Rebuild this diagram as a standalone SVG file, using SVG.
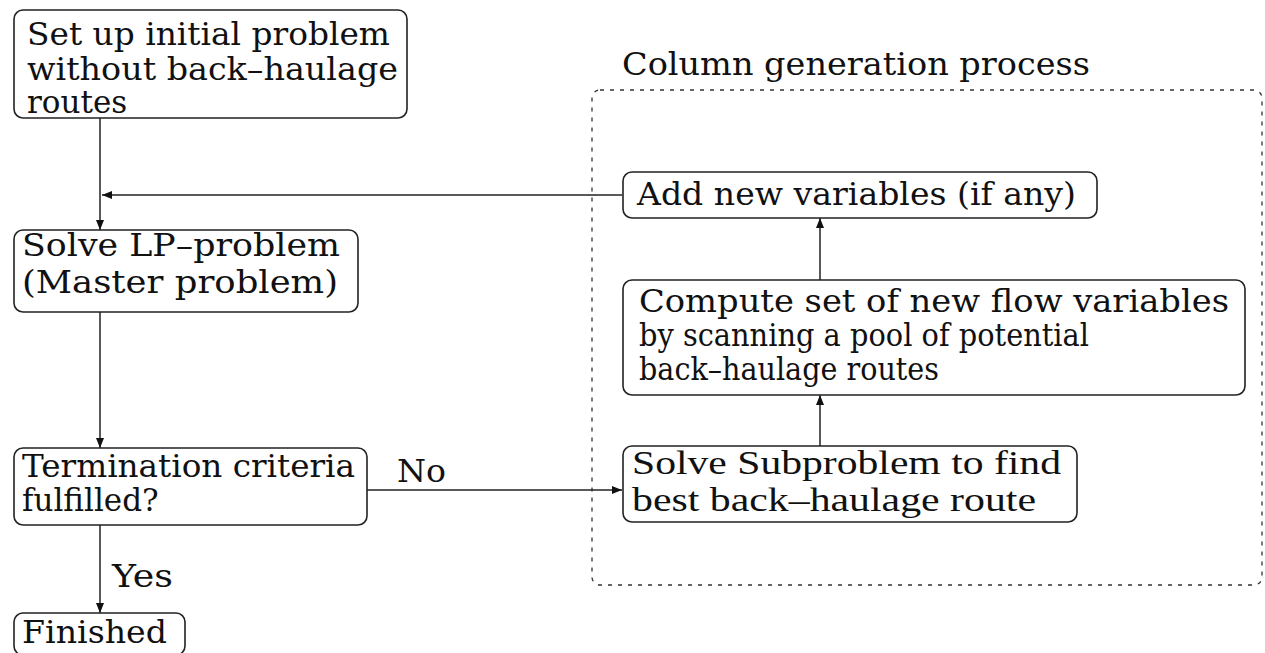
<svg xmlns="http://www.w3.org/2000/svg" width="1265" height="653" viewBox="0 0 1265 653">
<style>
.box{fill:#fff;stroke:#222;stroke-width:1.6}
.t{font-family:"DejaVu Serif","Liberation Serif",serif;font-size:31px;fill:#111}
.s{font-family:"Liberation Serif","Times New Roman",serif;font-size:33px;fill:#111}
.c{stroke:#222;stroke-width:1.5;fill:none}
.dash{fill:none;stroke:#333;stroke-width:1.3;stroke-dasharray:4 6}
</style>
<defs>
<marker id="ah" viewBox="0 0 10 10" refX="10" refY="5" markerWidth="10" markerHeight="10" markerUnits="userSpaceOnUse" orient="auto">
<path d="M0,1 L10,5 L0,9 z" fill="#111"/>
</marker>
</defs>
<rect width="1265" height="653" fill="#fff"/>
<g id="cluster">
<rect class="dash" x="592" y="90" width="670" height="495" rx="8"/>
<text class="t" x="622" y="75" textLength="468" lengthAdjust="spacingAndGlyphs">Column generation process</text>
</g>
<g id="connectors">
<line class="c" x1="100" y1="118" x2="100" y2="230" marker-end="url(#ah)"/>
<line class="c" x1="622" y1="195" x2="102" y2="195" marker-end="url(#ah)"/>
<line class="c" x1="100" y1="312" x2="100" y2="448" marker-end="url(#ah)"/>
<line class="c" x1="367" y1="490" x2="622" y2="490" marker-end="url(#ah)"/>
<line class="c" x1="100" y1="525" x2="100" y2="613" marker-end="url(#ah)"/>
<line class="c" x1="820" y1="446" x2="820" y2="395" marker-end="url(#ah)"/>
<line class="c" x1="820" y1="280" x2="820" y2="218" marker-end="url(#ah)"/>
<text class="t" x="397" y="482" textLength="49" lengthAdjust="spacingAndGlyphs">No</text>
<text class="t" x="112" y="587" textLength="61" lengthAdjust="spacingAndGlyphs">Yes</text>
</g>
<g id="setup">
<rect class="box" x="14" y="10" width="393" height="108" rx="9"/>
<text class="t" x="27" y="45" textLength="363" lengthAdjust="spacingAndGlyphs">Set up initial problem</text>
<text class="t" x="27" y="80" textLength="371" lengthAdjust="spacingAndGlyphs">without back–haulage</text>
<text class="t" x="27" y="113">routes</text>
</g>
<g id="solvelp">
<rect class="box" x="14" y="230" width="344" height="82" rx="9"/>
<text class="t" x="22" y="256" textLength="318" lengthAdjust="spacingAndGlyphs">Solve LP–problem</text>
<text class="t" x="22" y="293" textLength="316" lengthAdjust="spacingAndGlyphs">(Master problem)</text>
</g>
<g id="termination">
<rect class="box" x="14" y="448" width="353" height="77" rx="9"/>
<text class="t" x="22" y="477" textLength="333" lengthAdjust="spacingAndGlyphs">Termination criteria</text>
<text class="t" x="22" y="511">fulfilled?</text>
</g>
<g id="finished">
<rect class="box" x="14" y="613" width="171" height="42" rx="9"/>
<text class="t" x="22" y="643" textLength="145" lengthAdjust="spacingAndGlyphs">Finished</text>
</g>
<g id="addvars">
<rect class="box" x="623" y="172" width="474" height="46" rx="9"/>
<text class="t" x="637" y="205" textLength="439" lengthAdjust="spacingAndGlyphs">Add new variables (if any)</text>
</g>
<g id="compute">
<rect class="box" x="623" y="280" width="622" height="115" rx="9"/>
<text class="t" x="639" y="312" textLength="590" lengthAdjust="spacingAndGlyphs">Compute set of new flow variables</text>
<text class="t" x="639" y="346" textLength="450" lengthAdjust="spacingAndGlyphs">by scanning a pool of potential</text>
<text class="t" x="639" y="380" textLength="300" lengthAdjust="spacingAndGlyphs">back–haulage routes</text>
</g>
<g id="subproblem">
<rect class="box" x="623" y="446" width="454" height="76" rx="9"/>
<text class="s" x="632" y="474" textLength="429" lengthAdjust="spacingAndGlyphs">Solve Subproblem to find</text>
<text class="s" x="632" y="511" textLength="404" lengthAdjust="spacingAndGlyphs">best back–haulage route</text>
</g>
</svg>
